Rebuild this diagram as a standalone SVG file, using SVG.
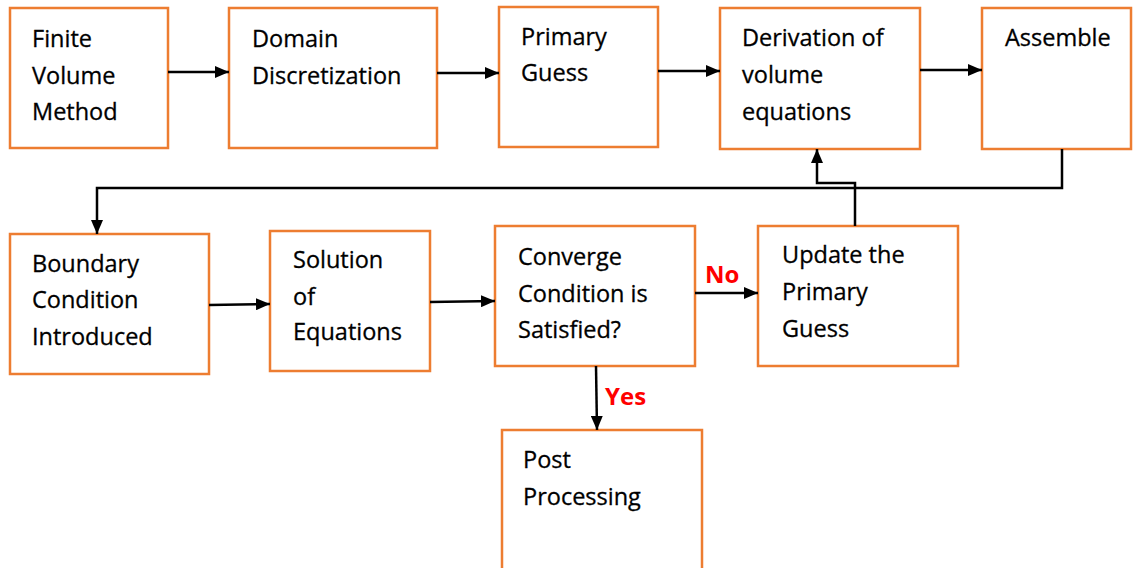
<svg xmlns="http://www.w3.org/2000/svg" width="1134" height="568" viewBox="0 0 1134 568">
<style>
.box{fill:#fff;stroke:#ED7D31;stroke-width:2.5}
.t{font-family:"Open Sans","Liberation Sans",sans-serif;font-size:23.5px;fill:#000;stroke:#000;stroke-width:0.3}
.c{fill:none;stroke:#000;stroke-width:2.5}
.lbl{font-family:"Open Sans","Liberation Sans",sans-serif;font-size:24px;font-weight:bold;fill:#FF0000}
</style>
<defs>
<marker id="ah" viewBox="0 0 14 12" refX="14" refY="6" markerWidth="14" markerHeight="12" markerUnits="userSpaceOnUse" orient="auto">
<path d="M0,0 L14,6 L0,12 Z" fill="#000"/>
</marker>
</defs>
<rect width="1134" height="568" fill="#fff"/>
<g id="n1"><rect class="box" x="10" y="8" width="158" height="140"/><text class="t" x="32" y="47">Finite</text><text class="t" x="32" y="84">Volume</text><text class="t" x="32" y="120">Method</text></g>
<g id="n2"><rect class="box" x="229" y="8" width="208" height="140"/><text class="t" x="252" y="47">Domain</text><text class="t" x="252" y="84">Discretization</text></g>
<g id="n3"><rect class="box" x="499" y="7" width="159" height="140"/><text class="t" x="521" y="45">Primary</text><text class="t" x="521" y="81">Guess</text></g>
<g id="n4"><rect class="box" x="720" y="8" width="200" height="141"/><text class="t" x="742" y="46">Derivation of</text><text class="t" x="742" y="83">volume</text><text class="t" x="742" y="120">equations</text></g>
<g id="n5"><rect class="box" x="982" y="8" width="149" height="141"/><text class="t" x="1005" y="46">Assemble</text></g>
<g id="n6"><rect class="box" x="10" y="234" width="199" height="140"/><text class="t" x="32" y="272">Boundary</text><text class="t" x="32" y="308">Condition</text><text class="t" x="32" y="345">Introduced</text></g>
<g id="n7"><rect class="box" x="270" y="231" width="160" height="140"/><text class="t" x="293" y="268">Solution</text><text class="t" x="293" y="305">of</text><text class="t" x="293" y="340">Equations</text></g>
<g id="n8"><rect class="box" x="495" y="226" width="200" height="140"/><text class="t" x="518" y="265">Converge</text><text class="t" x="518" y="302">Condition is</text><text class="t" x="518" y="338">Satisfied?</text></g>
<g id="n9"><rect class="box" x="758" y="226" width="200" height="140"/><text class="t" x="782" y="263">Update the</text><text class="t" x="782" y="300">Primary</text><text class="t" x="782" y="337">Guess</text></g>
<g id="n10"><rect class="box" x="502" y="430" width="200" height="145"/><text class="t" x="523" y="468">Post</text><text class="t" x="523" y="505">Processing</text></g>
<g id="connectors">
<path class="c" d="M168,72 L229,72" marker-end="url(#ah)"/>
<path class="c" d="M437,73 L499,73" marker-end="url(#ah)"/>
<path class="c" d="M658,71 L720,71" marker-end="url(#ah)"/>
<path class="c" d="M920,70 L982,70" marker-end="url(#ah)"/>
<path class="c" d="M1062,149 L1062,188 L97,188 L97,234" marker-end="url(#ah)"/>
<path class="c" d="M209,305 L270,304" marker-end="url(#ah)"/>
<path class="c" d="M430,302 L495,301" marker-end="url(#ah)"/>
<path class="c" d="M695,293 L758,293" marker-end="url(#ah)"/>
<path class="c" d="M855,226 L855,183 L817,183 L817,149" marker-end="url(#ah)"/>
<path class="c" d="M596,366 L597,430" marker-end="url(#ah)"/>
<text class="lbl" x="705" y="283">No</text>
<text class="lbl" x="605" y="405">Yes</text>
</g>
</svg>
